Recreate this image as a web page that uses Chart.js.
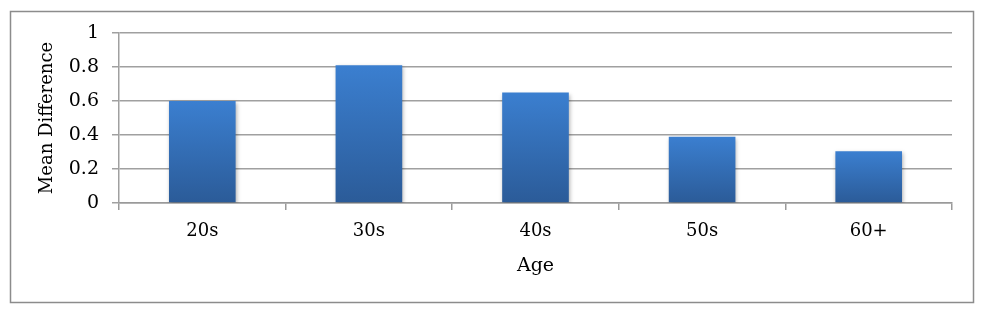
<!DOCTYPE html>
<html>
<head>
<meta charset="utf-8">
<script src="https://cdn.jsdelivr.net/npm/chart.js@4/dist/chart.umd.min.js"></script>
<style>
  html, body { margin: 0; padding: 0; background: #fff; }
  #wrap { width: 990px; height: 318px; }
</style>
</head>
<body>
<div id="wrap"><canvas id="ageChart" width="990" height="318"></canvas></div>
<script>
// Mean difference by age group
const ages = ['20s', '30s', '40s', '50s', '60+'];
const meanDiff = [0.60, 0.81, 0.65, 0.39, 0.305];
const yTicks = [0, 0.2, 0.4, 0.6, 0.8, 1];

const serif = '"DejaVu Serif", "Liberation Serif", serif';

// Outer frame around the whole chart
const framePlugin = {
    id: 'frame',
    beforeDraw(chart) {
        const c = chart.ctx;
        c.save();
        c.fillStyle = '#fff';
        c.fillRect(0, 0, chart.width, chart.height);
        c.strokeStyle = '#8c8c8c';
        c.lineWidth = 1.5;
        c.strokeRect(10.5, 11.5, 963, 291);
        c.restore();
    }
};

// Soft drop shadow under the bars
const shadowPlugin = {
    id: 'barShadow',
    beforeDatasetDraw(chart) {
        const c = chart.ctx;
        c.save();
        c.shadowColor = 'rgba(0, 0, 0, 0.3)';
        c.shadowBlur = 4;
        c.shadowOffsetX = 1;
        c.shadowOffsetY = 2;
    },
    afterDatasetDraw(chart) {
        chart.ctx.restore();
    }
};

function barGradient(context) {
    const chart = context.chart;
    const yScale = chart.scales.y;
    if (!yScale || context.parsed === undefined) return '#3572c0';
    const top = yScale.getPixelForValue(context.parsed.y);
    const bottom = yScale.getPixelForValue(0);
    if (!isFinite(top) || !isFinite(bottom) || top === bottom) return '#3572c0';
    const g = chart.ctx.createLinearGradient(0, top, 0, bottom);
    g.addColorStop(0, '#3b7fd0');
    g.addColorStop(1, '#2b5b98');
    return g;
}

new Chart(document.getElementById('ageChart'), {
    type: 'bar',
    data: {
        labels: ages,
        datasets: [{
            label: 'Mean Difference',
            data: meanDiff,
            backgroundColor: barGradient,
            borderWidth: 0,
            categoryPercentage: 1,
            barPercentage: 0.4
        }]
    },
    options: {
        responsive: false,
        animation: false,
        layout: { padding: { left: 10, right: 38, top: 33, bottom: 0 } },
        plugins: {
            legend: { display: false },
            tooltip: { enabled: false }
        },
        scales: {
            x: {
                afterFit(scale) { scale.height = 115; },
                grid: {
                    drawOnChartArea: false,
                    drawTicks: true,
                    tickLength: 7,
                    color: '#9a9a9a',
                    lineWidth: 1.5
                },
                border: { color: '#9a9a9a', width: 1.5 },
                ticks: { font: { family: serif, size: 18 }, color: '#000', padding: 11 },
                title: {
                    display: true,
                    text: 'Age',
                    font: { family: serif, size: 19 },
                    color: '#000',
                    padding: { top: 0, bottom: 41 }
                }
            },
            y: {
                min: 0,
                max: 1,
                afterFit(scale) { scale.width = 109; },
                afterBuildTicks(scale) {
                    scale.ticks = yTicks.map(v => ({ value: v }));
                },
                grid: {
                    color: '#a0a0a0',
                    lineWidth: 1.5,
                    tickLength: 7
                },
                border: { color: '#a0a0a0', width: 1.5 },
                ticks: {
                    font: { family: serif, size: 19 },
                    color: '#000',
                    padding: 13,
                    callback: v => String(v)
                },
                title: {
                    display: true,
                    text: 'Mean Difference',
                    font: { family: serif, size: 18 },
                    color: '#000',
                    padding: { top: 27, bottom: 0 }
                }
            }
        }
    },
    plugins: [framePlugin, shadowPlugin]
});
</script>
</body>
</html>
